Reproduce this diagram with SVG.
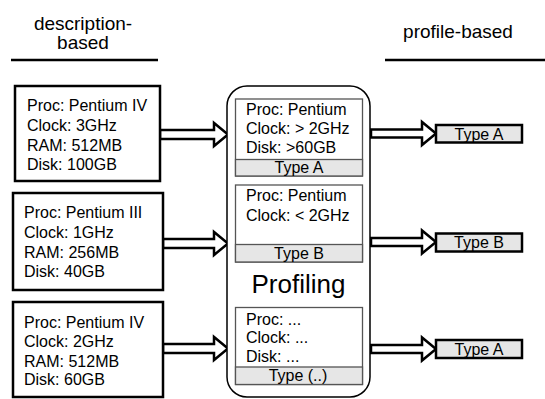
<svg xmlns="http://www.w3.org/2000/svg" width="545" height="399" viewBox="0 0 545 399">
<style>
text{font-family:"Liberation Sans",Arial,sans-serif;fill:#000}
.hdr{font-size:19px;text-anchor:middle}
.t{font-size:16px}
.c{font-size:16px;text-anchor:middle}
.box{fill:#fff;stroke:#000;stroke-width:2.5}
.inner{fill:#fff;stroke:#555;stroke-width:1.3}
.band{fill:#e6e6e6;stroke:#555;stroke-width:1.3}
.tbox{fill:#e6e6e6;stroke:#000;stroke-width:2.5}
.arr{fill:#fff;stroke:#000;stroke-width:2.5;stroke-linejoin:miter}
.rule{stroke:#000;stroke-width:2.5}
</style>
<g id="headers">
<text class="hdr" x="83" y="30">description-</text>
<text class="hdr" x="83" y="49">based</text>
<line class="rule" x1="11" y1="60" x2="158" y2="60"/>
<text class="hdr" x="458" y="38">profile-based</text>
<line class="rule" x1="385" y1="60" x2="545" y2="60"/>
</g>
<g id="connectors">
<polygon class="arr" points="160,130 214,130 214,123 228,134.5 214,146 214,139 160,139"/>
<polygon class="arr" points="163,239 214,239 214,232 228,243.5 214,255 214,248 163,248"/>
<polygon class="arr" points="163,344 214,344 214,337 228,348.5 214,360 214,353 163,353"/>
<polygon class="arr" points="371,129.5 422,129.5 422,122 436,133.5 422,145 422,137.5 371,137.5"/>
<polygon class="arr" points="371,238 422,238 422,230.5 436,242 422,253.5 422,246 371,246"/>
<polygon class="arr" points="371,345 422,345 422,337.5 436,349 422,360.5 422,353 371,353"/>
</g>
<g id="desc1">
<rect class="box" x="15" y="86" width="145" height="95"/>
<text class="t" x="27" y="111">Proc: Pentium IV</text>
<text class="t" x="27" y="131">Clock: 3GHz</text>
<text class="t" x="27" y="151">RAM: 512MB</text>
<text class="t" x="27" y="170">Disk: 100GB</text>
</g>
<g id="desc2">
<rect class="box" x="13" y="193" width="150" height="97"/>
<text class="t" x="24" y="218">Proc: Pentium III</text>
<text class="t" x="24" y="238">Clock: 1GHz</text>
<text class="t" x="24" y="257.5">RAM: 256MB</text>
<text class="t" x="24" y="277">Disk: 40GB</text>
</g>
<g id="desc3">
<rect class="box" x="13" y="302" width="150" height="95"/>
<text class="t" x="24" y="328">Proc: Pentium IV</text>
<text class="t" x="24" y="347">Clock: 2GHz</text>
<text class="t" x="24" y="366.5">RAM: 512MB</text>
<text class="t" x="24" y="385">Disk: 60GB</text>
</g>
<g id="profiling">
<rect x="227" y="86" width="143" height="311" rx="20" ry="20" fill="#fff" stroke="#000" stroke-width="1.5"/>
<text x="298.5" y="293" font-size="26" text-anchor="middle">Profiling</text>
</g>
<g id="profileA">
<rect class="inner" x="235.5" y="99" width="127" height="77"/>
<rect class="band" x="235.5" y="159.5" width="127" height="16.5"/>
<text class="t" x="246" y="115">Proc: Pentium</text>
<text class="t" x="246" y="134">Clock: &gt; 2GHz</text>
<text class="t" x="246" y="153">Disk: &gt;60GB</text>
<text class="c" x="299" y="172.5">Type A</text>
</g>
<g id="profileB">
<rect class="inner" x="235.5" y="185" width="127" height="77"/>
<rect class="band" x="235.5" y="244.5" width="127" height="17.5"/>
<text class="t" x="246" y="201">Proc: Pentium</text>
<text class="t" x="246" y="220.5">Clock: &lt; 2GHz</text>
<text class="c" x="299" y="258.5">Type B</text>
</g>
<g id="profileC">
<rect class="inner" x="235.5" y="307.5" width="127" height="77"/>
<rect class="band" x="235.5" y="367" width="127" height="17.5"/>
<text class="t" x="246" y="325">Proc: ...</text>
<text class="t" x="246" y="343">Clock: ...</text>
<text class="t" x="246" y="361.5">Disk: ...</text>
<text class="c" x="298" y="381">Type (..)</text>
</g>
<g id="typeA1">
<rect class="tbox" x="436" y="125" width="86" height="17.5"/>
<text class="c" x="479" y="139.5">Type A</text>
</g>
<g id="typeB">
<rect class="tbox" x="436" y="233.5" width="86" height="18"/>
<text class="c" x="479" y="248">Type B</text>
</g>
<g id="typeA2">
<rect class="tbox" x="436" y="340" width="86" height="18"/>
<text class="c" x="479" y="354.5">Type A</text>
</g>
</svg>
